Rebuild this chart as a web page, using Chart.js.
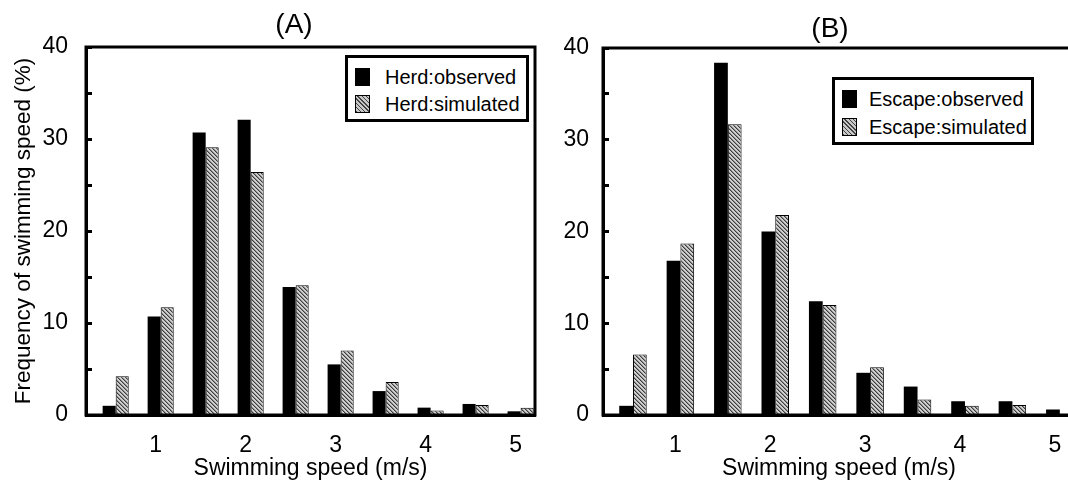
<!DOCTYPE html>
<html>
<head>
<meta charset="utf-8">
<title>Swimming speed distributions</title>
<script src="https://cdn.jsdelivr.net/npm/chart.js@4.4.0/dist/chart.umd.min.js"></script>
<style>
  html, body { margin: 0; padding: 0; background: #fff; overflow: hidden; }
  #page { position: relative; width: 1068px; height: 495px; overflow: hidden; }
  canvas { position: absolute; top: 0; }
  #chartA { left: 0; }
  #chartB { left: 540px; }
  .legend {
    position: absolute; box-sizing: border-box; border: 3px solid #000; background: #fff;
    font: 20px "Liberation Sans", Arial, sans-serif; color: #000;
  }
  .legend .sw { position: absolute; width: 15px; height: 18px; box-sizing: border-box; }
  .legend .txt { position: absolute; line-height: 20px; white-space: nowrap; }
  .solid { background: #000; }
  .hatch { border: 1px solid #000; background: repeating-linear-gradient(45deg, #444 0 1px, #c8c8c8 1px 3px); }
</style>
</head>
<body>
<div id="page">
  <canvas id="chartA" width="588" height="495"></canvas>
  <canvas id="chartB" width="580" height="495"></canvas>

  <div class="legend" style="left:345px; top:55px; width:184px; height:67px;">
    <div class="sw solid" style="left:7px; top:10px;"></div>
    <div class="txt" style="left:37px; top:9px;">Herd:observed</div>
    <div class="sw hatch" style="left:7px; top:37px;"></div>
    <div class="txt" style="left:37px; top:36px;">Herd:simulated</div>
  </div>
  <div class="legend" style="left:832px; top:77px; width:202px; height:68px;">
    <div class="sw solid" style="left:7px; top:10px;"></div>
    <div class="txt" style="left:34px; top:9px;">Escape:observed</div>
    <div class="sw hatch" style="left:7px; top:38px;"></div>
    <div class="txt" style="left:34px; top:37px;">Escape:simulated</div>
  </div>
</div>

<script>
// bin centres of swimming speed (m/s)
const speedBins = [0.5, 1.0, 1.5, 2.0, 2.5, 3.0, 3.5, 4.0, 4.5, 5.0];

// frequency (%)
const herdObserved    = [1.0, 10.7, 30.7, 32.1, 13.9, 5.5, 2.6, 0.8, 1.2, 0.4];
const herdSimulated   = [4.2, 11.7, 29.1, 26.4, 14.1, 7.0, 3.6, 0.5, 1.1, 0.8];
const escapeObserved  = [1.0, 16.8, 38.4, 20.0, 12.4, 4.6, 3.1, 1.5, 1.5, 0.6];
const escapeSimulated = [6.6, 18.7, 31.7, 21.8, 12.0, 5.2, 1.7, 1.0, 1.1, 0.0];

const yMax = 40;
const yStep = 5;      // minor ticks, labels every 10
const xStep = 1;

Chart.defaults.font.family = "'Liberation Sans', Arial, sans-serif";
Chart.defaults.color = '#000';

// grey diagonal hatching for the simulated bars
function makeHatch() {
  const c = document.createElement('canvas');
  c.width = 4; c.height = 4;
  const g = c.getContext('2d');
  g.fillStyle = '#cfcfcf';
  g.fillRect(0, 0, 4, 4);
  for (let i = 0; i < 4; i++) {
    g.fillStyle = '#3c3c3c';
    g.fillRect(i, i, 1, 1);
    g.fillStyle = '#8c8c8c';
    g.fillRect((i + 1) % 4, i, 1, 1);
  }
  return g.createPattern(c, 'repeat');
}
const hatch = makeHatch();

// box round the plot area
const frame = {
  id: 'frame',
  afterDatasetsDraw(chart) {
    const { ctx, chartArea: a } = chart;
    ctx.save();
    ctx.lineWidth = 3;
    ctx.strokeStyle = '#000';
    ctx.strokeRect(a.left, a.top, a.right - a.left, a.bottom - a.top);
    ctx.restore();
  }
};

function makeChart(id, p) {
  const toPoints = vals => speedBins.map((x, i) => ({ x: x, y: vals[i] }));
  return new Chart(document.getElementById(id), {
    type: 'bar',
    data: {
      datasets: [
        { label: p.names[0], data: toPoints(p.observed), backgroundColor: '#000', borderWidth: 0,
          categoryPercentage: 0.58, barPercentage: 1 },
        { label: p.names[1], data: toPoints(p.simulated), backgroundColor: hatch, borderColor: '#000', borderWidth: 1,
          categoryPercentage: 0.58, barPercentage: 1 }
      ]
    },
    options: {
      responsive: false,
      animation: false,
      layout: { padding: 0 },
      plugins: {
        legend: { display: false },
        tooltip: { enabled: false },
        title: {
          display: true, text: p.title, color: '#000',
          font: { size: 28, weight: 'normal' },
          padding: p.titlePad
        }
      },
      scales: {
        x: {
          type: 'linear', min: p.xMin, max: p.xMax, offset: false,
          grid: { display: false, drawTicks: false, offset: false },
          border: { display: true, width: 3, color: '#000' },
          ticks: { stepSize: xStep, includeBounds: false, labelOffset: -5, padding: 17,
                   font: { size: 23 }, maxRotation: 0 },
          title: { display: true, text: 'Swimming speed (m/s)', font: { size: 23 },
                   padding: { top: 0, bottom: 13 } },
          afterFit: s => { s.height = 80; }
        },
        y: {
          min: 0, max: yMax,
          grid: { drawOnChartArea: false, tickLength: -6, tickWidth: 3, tickColor: '#000' },
          border: { display: true, width: 3, color: '#000' },
          ticks: { stepSize: yStep, padding: p.yLabelPad, font: { size: 23 },
                   callback: v => (v % 10 === 0 ? v : '') },
          title: { display: p.yTitle, text: 'Frequency of swimming speed (%)', font: { size: 22.5 },
                   padding: { top: 10, bottom: 0 } },
          afterFit: s => { s.width = p.yWidth; }
        },
        r: {
          position: 'right', display: true,
          grid: { display: false, drawTicks: false },
          border: { display: false },
          ticks: { display: false },
          afterFit: s => { s.width = p.rightGap; }
        }
      }
    },
    plugins: [frame]
  });
}

makeChart('chartA', {
  title: '(A)', names: ['Herd:observed', 'Herd:simulated'],
  observed: herdObserved, simulated: herdSimulated,
  xMin: 0.17, xMax: 5.16, yWidth: 86, rightGap: 53, yLabelPad: 24, yTitle: true,
  titlePad: { top: 8.6, bottom: 4.8 }
});

makeChart('chartB', {
  title: '(B)', names: ['Escape:observed', 'Escape:simulated'],
  observed: escapeObserved, simulated: escapeSimulated,
  xMin: 0.184, xMax: 5.16, yWidth: 63, rightGap: 45, yLabelPad: 20, yTitle: false,
  titlePad: { top: 12, bottom: 2.4 }
});
</script>
</body>
</html>
